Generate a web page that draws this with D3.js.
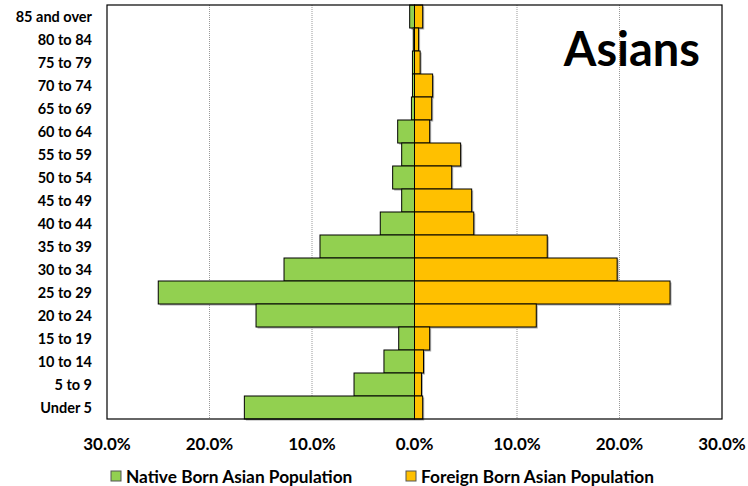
<!DOCTYPE html>
<html><head><meta charset="utf-8">
<script src="https://cdn.jsdelivr.net/npm/d3@7"></script>
<style>
body{margin:0;background:#fff;}
text{font-family:Lato,"Open Sans","Liberation Sans",sans-serif;font-weight:bold;fill:#000;}
</style></head>
<body><svg id="c" width="748" height="486"></svg>
<script>
const categories = ["85 and over","80 to 84","75 to 79","70 to 74","65 to 69","60 to 64","55 to 59","50 to 54","45 to 49","40 to 44","35 to 39","30 to 34","25 to 29","20 to 24","15 to 19","10 to 14","5 to 9","Under 5"];
const nativeBorn = [0.47,0.12,0.2,0.2,0.3,1.64,1.25,2.13,1.25,3.34,9.22,12.73,25.0,15.46,1.54,2.98,5.9,16.6];
const foreignBorn = [0.8,0.4,0.55,1.77,1.68,1.48,4.5,3.63,5.58,5.78,12.95,19.77,24.93,11.88,1.48,0.88,0.68,0.8];
const tickValues = [-30,-20,-10,0,10,20,30];
const seriesNames = ["Native Born Asian Population","Foreign Born Asian Population"];
const colors = ["#92D050","#FFC000"];
const title = "Asians";

const svg = d3.select("#c");
const L=107, R=722, T=5, B=419;
const x = d3.scaleLinear().domain([-30,30]).range([L,R]);
const y = d3.scaleBand().domain(categories).range([T,B]).padding(0);

// gridlines
svg.append("g").selectAll("line").data(tickValues.filter(v=>v!==0 && Math.abs(v)!==30)).join("line")
  .attr("x1",d=>x(d)).attr("x2",d=>x(d)).attr("y1",T).attr("y2",B)
  .attr("stroke","#999").attr("stroke-width",1).attr("stroke-dasharray","1,1");

function drawBars(vals, sign, color){
  const g = svg.append("g");
  g.selectAll("rect.sh").data(categories).join("rect")
    .attr("x",(d,i)=> (sign<0? x(-vals[i]) : x(0)) + 1.5)
    .attr("y",d=>y(d)+1.5)
    .attr("width",(d,i)=>Math.abs(x(vals[i])-x(0)))
    .attr("height",y.bandwidth())
    .attr("fill","#888").attr("opacity",0.7);
  g.selectAll("rect.b").data(categories).join("rect")
    .attr("x",(d,i)=> sign<0? x(-vals[i]) : x(0))
    .attr("y",d=>y(d))
    .attr("width",(d,i)=>Math.abs(x(vals[i])-x(0)))
    .attr("height",y.bandwidth())
    .attr("fill",color).attr("stroke","#000").attr("stroke-width",1);
}
drawBars(nativeBorn,-1,colors[0]);
drawBars(foreignBorn,1,colors[1]);

// zero line
svg.append("line").attr("x1",x(0)).attr("x2",x(0)).attr("y1",T).attr("y2",B).attr("stroke","#000").attr("stroke-width",1);

// border
svg.append("rect").attr("x",L).attr("y",T).attr("width",R-L).attr("height",B-T)
  .attr("fill","none").attr("stroke","#000").attr("stroke-width",1.2);

// y labels
svg.append("g").selectAll("text").data(categories).join("text")
  .attr("x",92).attr("y",d=>y(d)+y.bandwidth()/2).attr("dy","0.35em")
  .attr("text-anchor","end").attr("font-size",14.5).text(d=>d);

// x axis labels
const fmt = d3.format(".1f");
svg.append("g").selectAll("text").data(tickValues).join("text")
  .attr("x",d=>x(d)).attr("y",444).attr("dy","0.35em")
  .attr("text-anchor","middle").attr("font-size",17).text(d=>fmt(Math.abs(d))+"%");

// title
svg.append("text").attr("x",700).attr("y",66).attr("text-anchor","end")
  .attr("font-size",47).text(title);

// legend
const lg = svg.append("g");
const lx=[111,406];
seriesNames.forEach((n,i)=>{
  lg.append("rect").attr("x",lx[i]).attr("y",471).attr("width",10).attr("height",10)
    .attr("fill",colors[i]).attr("stroke","#555").attr("stroke-width",1);
  lg.append("text").attr("x",lx[i]+15).attr("y",477).attr("dy","0.35em")
    .attr("font-size",17.3).text(n);
});
</script></body></html>
